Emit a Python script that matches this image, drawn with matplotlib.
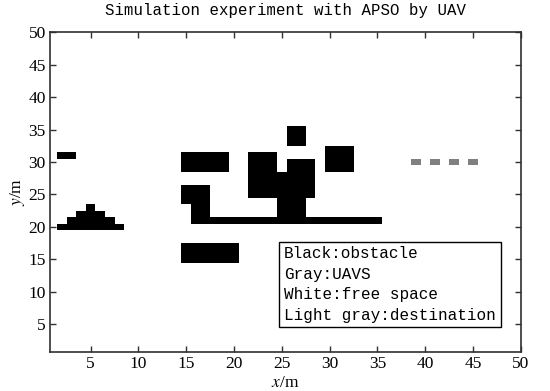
import numpy as np
import matplotlib
matplotlib.use("Agg")
import matplotlib.pyplot as plt
from matplotlib.colors import ListedColormap

plt.rcParams["mathtext.fontset"] = "stix"

# Grid cell blocks: (x_start, x_end, y_start, y_end), inclusive cell indices
obstacles = [
    (2, 3, 31, 31),
    (2, 8, 20, 20),
    (3, 7, 21, 21),
    (4, 6, 22, 22),
    (5, 5, 23, 23),
    (15, 19, 29, 31),
    (15, 17, 24, 26),
    (16, 17, 22, 23),
    (16, 35, 21, 21),
    (15, 20, 15, 17),
    (22, 24, 25, 31),
    (25, 25, 25, 28),
    (26, 28, 25, 30),
    (25, 27, 22, 24),
    (26, 27, 33, 35),
    (30, 32, 29, 32),
]
uav_x = [39, 41, 43, 45]
uav_y = [30, 30, 30, 30]

legend_lines = ["Black:obstacle", "Gray:UAVS", "White:free space", "Light gray:destination"]
xticks = [5, 10, 15, 20, 25, 30, 35, 40, 45, 50]
yticks = [5, 10, 15, 20, 25, 30, 35, 40, 45, 50]

N = 50
grid = np.zeros((N, N))
for x0, x1, y0, y1 in obstacles:
    grid[y0 - 1:y1, x0 - 1:x1] = 1
for ux, uy in zip(uav_x, uav_y):
    grid[uy - 1, ux - 1] = 2

cmap = ListedColormap(["white", "black", "#808080"])

fig = plt.figure(figsize=(5.5, 3.91), dpi=100)
ax = fig.add_axes([0.0909, 0.0997, 0.856, 0.8183])
ax.imshow(grid, cmap=cmap, vmin=0, vmax=2, origin="lower",
          extent=(0.5, N + 0.5, 0.5, N + 0.5), interpolation="nearest",
          aspect="auto")
ax.set_xlim(0.75, 50)
ax.set_ylim(0.75, 50)
ax.set_xticks(xticks)
ax.set_yticks(yticks)
ax.tick_params(direction="in", top=True, right=True, length=4.5, width=1,
               color="#303030", pad=3, labelsize=12.5)
for lab in ax.get_xticklabels() + ax.get_yticklabels():
    lab.set_family("Liberation Serif")
for sp in ax.spines.values():
    sp.set_linewidth(1.2)
    sp.set_color("#303030")

ax.set_title("Simulation experiment with APSO by UAV", family="Liberation Mono",
             fontsize=11.3, pad=12)
ax.set_xlabel(r"$x$/m", family="Liberation Serif", fontsize=12.5, labelpad=2)
ax.set_ylabel(r"$y$/m", family="Liberation Serif", fontsize=12.5, labelpad=1)

ax.text(0.497, 0.330, "\n".join(legend_lines), transform=ax.transAxes,
        family="Liberation Mono", fontsize=11.5, va="top", ha="left",
        linespacing=1.45,
        bbox=dict(boxstyle="square,pad=0.3", fc="white", ec="black", lw=1))

fig.savefig("out.png", dpi=100)
